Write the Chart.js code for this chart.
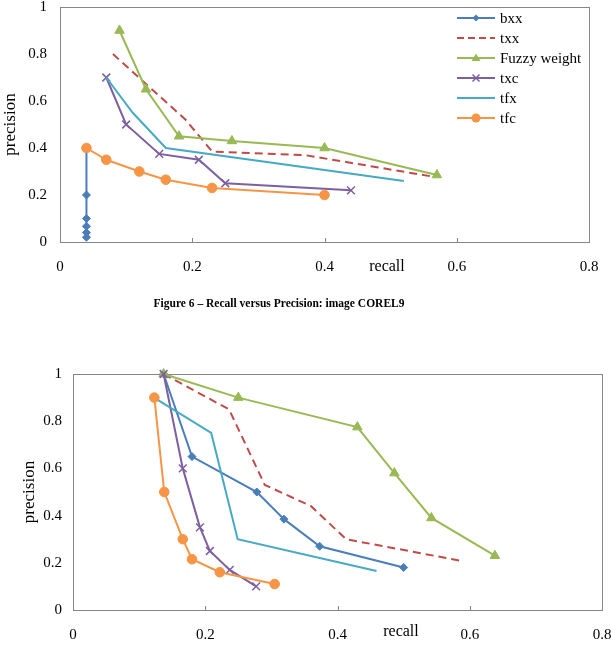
<!DOCTYPE html>
<html>
<head>
<meta charset="utf-8">
<script src="https://cdn.jsdelivr.net/npm/chart.js@4.4.1/dist/chart.umd.min.js"></script>
<style>
  body { margin: 0; background: #fff; font-family: 'Liberation Serif', 'Times New Roman', serif; }
  #page { position: relative; width: 611px; height: 650px; overflow: hidden; }
  #page > canvas { position: absolute; left: 0; }
  .recall { position: absolute; font-size: 16px; line-height: 1; transform: translate(-50%, -50%); }
  #caption { position: absolute; left: 279px; top: 303px; transform: translate(-50%, -50%); white-space: nowrap;
             font-weight: bold; font-size: 11.5px; }
  #legend { position: absolute; left: 457px; top: 8px; font-size: 15px; line-height: 1; }
  #legend .row { height: 20px; display: flex; align-items: center; }
  #legend canvas { margin-right: 5px; }
</style>
</head>
<body>
<div id="page">
  <canvas id="fig6" width="611" height="285" style="top:0"></canvas>
  <div id="legend"></div>
  <div class="recall" style="left:387px; top:266px">recall</div>
  <div id="caption">Figure 6 – Recall versus Precision: image COREL9</div>
  <canvas id="fig7" width="611" height="310" style="top:340px"></canvas>
  <div class="recall" style="left:401px; top:631px">recall</div>
</div>
<script>
// series names, same for both figures
var seriesNames = ['bxx', 'txx', 'Fuzzy weight', 'txc', 'tfx', 'tfc'];

// axis ticks
var recallTicks = [0, 0.2, 0.4, 0.6, 0.8];
var precisionTicks = [0, 0.2, 0.4, 0.6, 0.8, 1];

// Figure 6 (COREL9): [recall, precision] pairs
var fig6Bxx = [[0.04, 0.40], [0.04, 0.20], [0.04, 0.10], [0.04, 0.067], [0.04, 0.04], [0.04, 0.02]];
var fig6Txx = [[0.08, 0.80], [0.19, 0.52], [0.23, 0.385], [0.37, 0.37], [0.56, 0.28]];
var fig6Fuzzy = [[0.09, 0.90], [0.13, 0.65], [0.18, 0.45], [0.26, 0.43], [0.40, 0.40], [0.57, 0.285]];
var fig6Txc = [[0.07, 0.70], [0.10, 0.50], [0.15, 0.375], [0.21, 0.35], [0.25, 0.25], [0.44, 0.22]];
var fig6Tfx = [[0.07, 0.70], [0.11, 0.55], [0.16, 0.40], [0.52, 0.26]];
var fig6Tfc = [[0.04, 0.40], [0.07, 0.35], [0.12, 0.30], [0.16, 0.265], [0.23, 0.23], [0.40, 0.20]];

// second figure
var fig7Bxx = [[0.137, 1.0], [0.18, 0.65], [0.278, 0.50], [0.319, 0.385], [0.373, 0.27], [0.50, 0.18]];
var fig7Txx = [[0.137, 1.0], [0.236, 0.85], [0.29, 0.53], [0.36, 0.44], [0.413, 0.30], [0.584, 0.21]];
var fig7Fuzzy = [[0.137, 1.0], [0.25, 0.90], [0.43, 0.775], [0.486, 0.58], [0.542, 0.39], [0.638, 0.23]];
var fig7Txc = [[0.137, 1.0], [0.166, 0.60], [0.192, 0.35], [0.207, 0.25], [0.237, 0.17], [0.277, 0.10]];
var fig7Tfx = [[0.128, 0.89], [0.209, 0.75], [0.249, 0.30], [0.459, 0.165]];
var fig7Tfc = [[0.123, 0.90], [0.138, 0.50], [0.166, 0.30], [0.18, 0.215], [0.222, 0.16], [0.305, 0.11]];

// look of each series (Excel 2010 palette)
var seriesStyles = [
  { color: '#4A7EBB', marker: 'rectRot', radius: 4 },
  { color: '#BE4B48', marker: false, dash: [8, 5] },
  { color: '#98B954', marker: 'triangle', radius: 5.5 },
  { color: '#7D60A0', marker: 'crossRot', radius: 5.5 },
  { color: '#46AAC5', marker: false },
  { color: '#F69546', marker: 'circle', radius: 4.8 }
];

Chart.defaults.font.family = "'Liberation Serif', 'Times New Roman', serif";
Chart.defaults.color = '#000';

function makeDatasets(seriesData) {
  return seriesData.map(function (pairs, i) {
    var s = seriesStyles[i];
    return {
      label: seriesNames[i],
      data: pairs.map(function (p) { return { x: p[0], y: p[1] }; }),
      showLine: true,
      tension: 0,
      borderColor: s.color,
      backgroundColor: s.color,
      borderWidth: 2,
      borderDash: s.dash || [],
      pointStyle: s.marker || 'circle',
      pointRadius: s.marker ? s.radius : 0,
      pointBorderWidth: s.marker === 'crossRot' ? 1.5 : 1,
      pointBorderColor: s.color,
      pointBackgroundColor: s.color,
      clip: false,
      order: seriesData.length - i // later series on top, like the original
    };
  });
}

// plain number labels: 0, 0.2 ... 1
function tickLabel(value) {
  return String(Math.round(value * 10) / 10);
}

// the plot box is fixed by hand, so drop the extra room chart.js keeps for edge labels
function noEdgePadding(scale) {
  scale.paddingTop = 0;
  scale.paddingBottom = 0;
  scale.paddingLeft = 0;
  scale.paddingRight = 0;
}

// plot border and small inside ticks on the recall axis
var framePlugin = {
  id: 'frame',
  beforeDatasetsDraw: function (chart) {
    var ctx = chart.ctx, a = chart.chartArea, x = chart.scales.x;
    ctx.save();
    ctx.strokeStyle = '#868686';
    ctx.lineWidth = 1;
    ctx.strokeRect(Math.round(a.left) + 0.5, Math.round(a.top) + 0.5, Math.round(a.width), Math.round(a.height));
    ctx.beginPath();
    x.ticks.forEach(function (t) {
      if (t.value > x.min && t.value < x.max) {
        var px = Math.round(x.getPixelForValue(t.value)) + 0.5;
        ctx.moveTo(px, a.bottom);
        ctx.lineTo(px, a.bottom - 4);
      }
    });
    ctx.stroke();
    ctx.restore();
  }
};

function makeChart(canvasId, seriesData, box) {
  var ctx = document.getElementById(canvasId).getContext('2d');
  return new Chart(ctx, {
    type: 'scatter',
    data: { datasets: makeDatasets(seriesData) },
    options: {
      responsive: false,
      animation: false,
      events: [],
      layout: { padding: { top: box.top, right: box.right, left: 0, bottom: 0 } },
      plugins: { legend: { display: false }, tooltip: { enabled: false } },
      scales: {
        x: {
          type: 'linear',
          min: recallTicks[0],
          max: recallTicks[recallTicks.length - 1],
          afterBuildTicks: function (scale) { scale.ticks = recallTicks.map(function (v) { return { value: v }; }); },
          grid: { display: false, drawTicks: false },
          border: { display: false },
          ticks: { padding: box.xPad, font: { size: 15 }, maxRotation: 0, callback: tickLabel },
          afterFit: function (scale) { scale.height = box.xHeight; noEdgePadding(scale); }
        },
        y: {
          type: 'linear',
          min: precisionTicks[0],
          max: precisionTicks[precisionTicks.length - 1],
          afterBuildTicks: function (scale) { scale.ticks = precisionTicks.map(function (v) { return { value: v }; }); },
          grid: { display: false, drawTicks: false },
          border: { display: false },
          ticks: { padding: box.yPad, font: { size: 15 }, callback: tickLabel },
          title: { display: true, text: 'precision', font: { size: 17 }, padding: { top: box.titlePad, bottom: 0 } },
          afterFit: function (scale) { scale.width = box.yWidth; noEdgePadding(scale); }
        }
      }
    },
    plugins: [framePlugin]
  });
}

// small line + marker icon for the legend rows
function drawLegendIcon(canvas, s) {
  var c = canvas.getContext('2d');
  var w = canvas.width, h = canvas.height, cx = w / 2, cy = h / 2;
  c.strokeStyle = s.color;
  c.fillStyle = s.color;
  c.lineWidth = 2;
  c.setLineDash(s.dash ? [7, 4] : []);
  c.beginPath(); c.moveTo(0, cy); c.lineTo(w, cy); c.stroke();
  c.setLineDash([]);
  c.beginPath();
  if (s.marker === 'rectRot') {
    c.moveTo(cx, cy - 3.5); c.lineTo(cx + 3.5, cy); c.lineTo(cx, cy + 3.5); c.lineTo(cx - 3.5, cy); c.closePath(); c.fill();
  } else if (s.marker === 'triangle') {
    c.moveTo(cx, cy - 4.5); c.lineTo(cx + 4.5, cy + 3); c.lineTo(cx - 4.5, cy + 3); c.closePath(); c.fill();
  } else if (s.marker === 'crossRot') {
    c.lineWidth = 1.5;
    c.moveTo(cx - 3.5, cy - 3.5); c.lineTo(cx + 3.5, cy + 3.5); c.moveTo(cx + 3.5, cy - 3.5); c.lineTo(cx - 3.5, cy + 3.5); c.stroke();
  } else if (s.marker === 'circle') {
    c.arc(cx, cy, 4.5, 0, Math.PI * 2); c.fill();
  }
}

function buildLegend() {
  var legend = document.getElementById('legend');
  seriesNames.forEach(function (name, i) {
    var row = document.createElement('div');
    row.className = 'row';
    var icon = document.createElement('canvas');
    icon.width = 38; icon.height = 12;
    drawLegendIcon(icon, seriesStyles[i]);
    var label = document.createElement('span');
    label.textContent = name;
    row.appendChild(icon);
    row.appendChild(label);
    legend.appendChild(row);
  });
}

buildLegend();
makeChart('fig6', [fig6Bxx, fig6Txx, fig6Fuzzy, fig6Txc, fig6Tfx, fig6Tfc],
  { top: 6, right: 22, xHeight: 43, xPad: 16, yWidth: 60, yPad: 13, titlePad: 0 });
makeChart('fig7', [fig7Bxx, fig7Txx, fig7Fuzzy, fig7Txc, fig7Tfx, fig7Tfc],
  { top: 34, right: 9, xHeight: 40, xPad: 16, yWidth: 73, yPad: 11, titlePad: 19 });
</script>
</body>
</html>
